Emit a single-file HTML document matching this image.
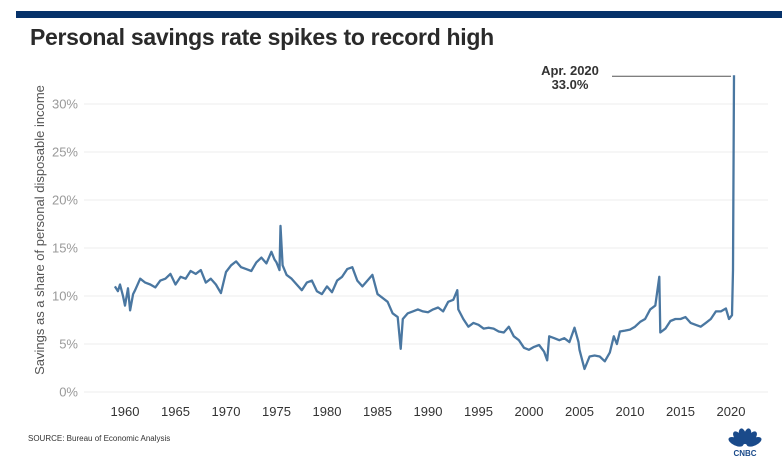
<!DOCTYPE html>
<html><head><meta charset="utf-8"><style>
body{margin:0;background:#fff;font-family:"Liberation Sans",sans-serif;}
#wrap{position:relative;width:782px;height:464px;overflow:hidden;background:#fff;}
</style></head><body>
<div id="wrap">
<div style="position:absolute;left:16px;top:11px;width:766px;height:7px;background:#06326a;"></div>
<div style="position:absolute;left:30px;top:24px;font-size:23px;font-weight:bold;color:#2a2a2a;letter-spacing:-0.3px;">Personal savings rate spikes to record high</div>
<svg id="chart" width="782" height="464" style="position:absolute;left:0;top:0"></svg>
<div style="position:absolute;left:28px;top:434px;font-size:8px;color:#333;">SOURCE: Bureau of Economic Analysis</div>
</div>
<script>
const years=[1959,1959.3,1959.5,1959.8,1960,1960.3,1960.5,1960.8,1961,1961.5,1962,1962.5,1963,1963.5,1964,1964.5,1965,1965.5,1966,1966.5,1967,1967.5,1968,1968.5,1969,1969.5,1970,1970.5,1971,1971.5,1972,1972.5,1973,1973.5,1974,1974.5,1974.8,1975,1975.3,1975.4,1975.6,1976,1976.5,1977,1977.5,1978,1978.5,1979,1979.5,1980,1980.5,1981,1981.5,1982,1982.5,1983,1983.5,1984,1984.5,1985,1985.5,1986,1986.5,1987,1987.3,1987.5,1988,1988.5,1989,1989.5,1990,1990.5,1991,1991.5,1992,1992.5,1992.9,1993,1993.5,1994,1994.5,1995,1995.5,1996,1996.5,1997,1997.5,1998,1998.5,1999,1999.5,2000,2000.5,2001,2001.5,2001.8,2002,2002.5,2003,2003.5,2004,2004.5,2004.9,2005,2005.5,2006,2006.5,2007,2007.5,2008,2008.4,2008.7,2009,2009.5,2010,2010.5,2011,2011.5,2012,2012.5,2012.9,2013,2013.5,2014,2014.5,2015,2015.5,2016,2016.5,2017,2017.5,2018,2018.5,2019,2019.5,2019.8,2020.1,2020.2,2020.3];
const rates=[11,10.5,11.2,10,9,10.8,8.5,10.2,10.6,11.8,11.4,11.2,10.9,11.6,11.8,12.3,11.2,12,11.8,12.6,12.3,12.7,11.4,11.8,11.2,10.3,12.5,13.2,13.6,13,12.8,12.6,13.5,14,13.4,14.6,13.8,13.5,12.7,17.3,13.2,12.2,11.8,11.2,10.6,11.4,11.6,10.5,10.2,11,10.4,11.6,12,12.8,13,11.6,11,11.6,12.2,10.2,9.8,9.4,8.2,7.8,4.5,7.6,8.2,8.4,8.6,8.4,8.3,8.6,8.8,8.4,9.4,9.6,10.6,8.6,7.6,6.8,7.2,7,6.6,6.7,6.6,6.3,6.2,6.8,5.8,5.4,4.6,4.4,4.7,4.9,4.2,3.3,5.8,5.6,5.4,5.6,5.2,6.7,5.2,4.4,2.4,3.7,3.8,3.7,3.2,4.1,5.8,5.0,6.3,6.4,6.5,6.8,7.3,7.6,8.6,9,12,6.2,6.6,7.4,7.6,7.6,7.8,7.2,7,6.8,7.2,7.6,8.4,8.4,8.7,7.6,8,12.7,33];
const yTicks=[0,5,10,15,20,25,30];
const xTicks=[1960,1965,1970,1975,1980,1985,1990,1995,2000,2005,2010,2015,2020];
const NS='http://www.w3.org/2000/svg';
const svg=document.getElementById('chart');
const x=v=>125+(v-1960)*10.1;
const y=v=>392-v*9.6;
function el(t,a){const e=document.createElementNS(NS,t);for(const k in a)e.setAttribute(k,a[k]);svg.appendChild(e);return e;}
yTicks.forEach(t=>{
 const g=el('line',{x1:84,x2:768,y1:y(t),y2:y(t),stroke:'#eee','stroke-width':1});
 
 
 const l=el('text',{x:78,y:y(t)+4.5,'text-anchor':'end','font-size':13,fill:'#999','font-family':'Liberation Sans, sans-serif'});
 l.textContent=t+'%';
 
 
});
xTicks.forEach(t=>{
 const l=el('text',{x:x(t),y:416,'text-anchor':'middle','font-size':13,fill:'#333','font-family':'Liberation Sans, sans-serif'});
 l.textContent=t;
 
 
});
const yt=el('text',{transform:'translate(44,230) rotate(-90)','text-anchor':'middle','font-size':13,fill:'#555','font-family':'Liberation Sans, sans-serif'});
yt.textContent='Savings as a share of personal disposable income';


const p=el('path',{d:years.map((v,i)=>(i?'L':'M')+x(v).toFixed(1)+','+y(rates[i]).toFixed(1)).join(''),fill:'none',stroke:'#4a77a1','stroke-width':2.3,'stroke-linejoin':'round'});


const last=years.length-1;
const al=el('line',{x1:612,x2:x(years[last])-3,y1:y(rates[last])+1,y2:y(rates[last])+1,stroke:'#555','stroke-width':1});


const a1=el('text',{x:570,y:75,'text-anchor':'middle','font-size':13,'font-weight':'bold',fill:'#333','font-family':'Liberation Sans, sans-serif'});
a1.textContent='Apr. 2020';


const a2=el('text',{x:570,y:89,'text-anchor':'middle','font-size':13,'font-weight':'bold',fill:'#333','font-family':'Liberation Sans, sans-serif'});
a2.textContent=rates[last].toFixed(1)+'%';


const lg=el('g',{});


[-65,-38,-13,13,38,65].forEach(r=>{
 const e=document.createElementNS(NS,'ellipse');
 e.setAttribute('cx',745);e.setAttribute('cy',436);e.setAttribute('rx',3.8);e.setAttribute('ry',8);
 e.setAttribute('fill','#1a4a8a');e.setAttribute('transform',`rotate(${r} 745 446)`);lg.appendChild(e);
});
const ct=document.createElementNS(NS,'text');
ct.setAttribute('x',745);ct.setAttribute('y',456);ct.setAttribute('text-anchor','middle');ct.setAttribute('font-size',8);ct.setAttribute('font-weight','bold');ct.setAttribute('fill','#1a4a8a');ct.setAttribute('font-family','Liberation Sans, sans-serif');
ct.textContent='CNBC';lg.appendChild(ct);
</script>
</body></html>
